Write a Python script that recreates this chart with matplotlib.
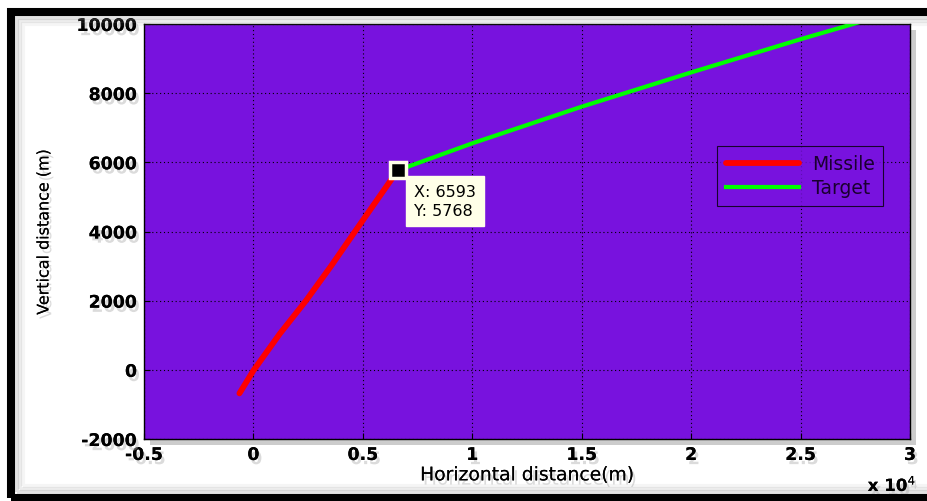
import numpy as np
import matplotlib
matplotlib.use('Agg')
import matplotlib.pyplot as plt
import matplotlib.patheffects as pe
from matplotlib.patches import Rectangle

plt.rcParams['font.family'] = ['DejaVu Sans']

# values (metres)
missile_x = [-640, 0, 1200, 2400, 3545, 4640, 6593]
missile_y = [-680, -20, 1040, 2000, 3000, 4000, 5768]
target_x = [6593, 10000, 15000, 20000, 25000, 27400, 29000]
target_y = [5768, 6550, 7610, 8600, 9560, 10000, 10300]
tip_x, tip_y = 6593, 5768

xticks = [-0.5, 0, 0.5, 1, 1.5, 2, 2.5, 3]
xtick_labels = ['-0.5', '0', '0.5', '1', '1.5', '2', '2.5', '3']
yticks = [-2000, 0, 2000, 4000, 6000, 8000, 10000]
ytick_labels = ['-2000', '0', '2000', '4000', '6000', '8000', '10000']

purple = '#7812DE'
shadow = [pe.withSimplePatchShadow(offset=(2, -3), shadow_rgbFace='#b0b0b0', alpha=0.45), pe.Normal()]

fig = plt.figure(figsize=(9.28, 5.02), dpi=100)
fig.patch.set_facecolor('white')
ax = fig.add_axes([0.1552, 0.1235, 0.8254, 0.8267])
ax.set_facecolor(purple)
ax.patch.set_path_effects([pe.withSimplePatchShadow(offset=(4, -4), shadow_rgbFace='gray', alpha=0.4), pe.Normal()])

mx = np.array(missile_x) / 1e4
tx = np.array(target_x) / 1e4
ax.plot(mx, missile_y, color='#FF0000', lw=4.2, solid_capstyle='round', label='Missile', zorder=3)
ax.plot(tx, target_y, color='#00FF00', lw=3, label='Target', zorder=3)

# data tip
ax.plot([tip_x / 1e4], [tip_y], marker='s', ms=11, mfc='black', mec='#FFFFE8', mew=2.5, zorder=5)
ax.annotate('X: 6593\nY: 5768', xy=(tip_x / 1e4, tip_y), xytext=(12, -10),
            textcoords='offset points', ha='left', va='top', fontsize=11.5,
            linespacing=1.35,
            bbox=dict(boxstyle='square,pad=0.5', fc='#FFFFE8', ec='#FFFFE8'), zorder=6)

ax.set_xlim(-0.5, 3)
ax.set_ylim(-2000, 10000)
ax.set_xticks(xticks)
ax.set_xticklabels(xtick_labels)
ax.set_yticks(yticks)
ax.set_yticklabels(ytick_labels)
ax.grid(True, color='black', linestyle=(0, (1, 2.5)), lw=0.8)
ax.tick_params(direction='in', length=4, labelsize=12.5, pad=5)
for lab in ax.get_xticklabels() + ax.get_yticklabels():
    lab.set_fontweight('bold')
    lab.set_path_effects(shadow)
for s in ax.spines.values():
    s.set_linewidth(1.0)

ax.set_xlabel('Horizontal distance(m)', fontsize=13.5, labelpad=1, path_effects=shadow)
ax.set_ylabel('Vertical distance (m)', fontsize=11.5, labelpad=18, path_effects=shadow)

fig.text(0.935, 0.032, r'x 10$^{4}$', fontsize=12, fontweight='bold', ha='left', va='center',
         path_effects=shadow)

leg = ax.legend(loc='upper right', bbox_to_anchor=(0.965, 0.706), fontsize=13.5,
                frameon=True, fancybox=False, handlelength=3.9, borderpad=0.45,
                labelspacing=0.25, handletextpad=0.7, borderaxespad=0)
leg.get_frame().set_facecolor(purple)
leg.get_frame().set_edgecolor('black')
leg.get_frame().set_linewidth(0.8)
for t in leg.get_texts():
    t.set_color('#1a0030')

# black frame round the picture with a soft grey inner shadow
for i, a in enumerate([0.08, 0.14, 0.22]):
    off = (12 - 3 * i) / 928
    offy = (12 - 3 * i) / 502
    fig.patches.append(Rectangle((0.0119 + off, 0.006 + offy), 1.2, 0.968 - 2 * offy,
                                 transform=fig.transFigure, fill=False, ec='gray',
                                 lw=3, alpha=a, zorder=0))
fig.patches.append(Rectangle((0.0119, 0.006), 1.2, 0.968, transform=fig.transFigure,
                             fill=False, ec='black', lw=5.8, zorder=10))

fig.savefig('out.png', dpi=100)
